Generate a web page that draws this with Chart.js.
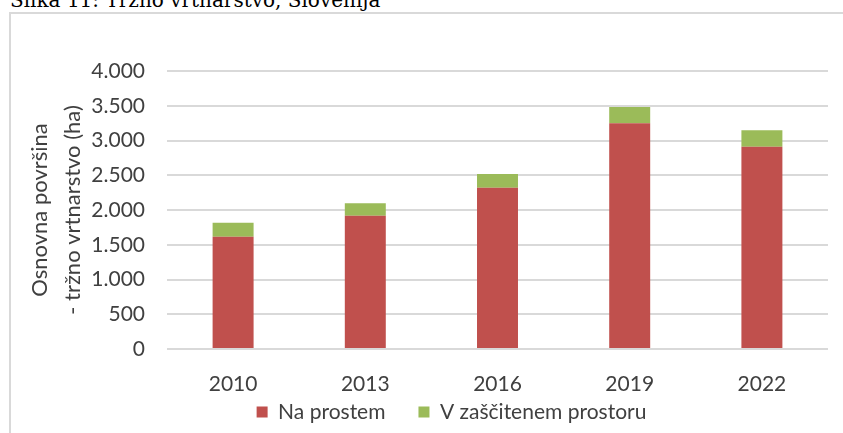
<!DOCTYPE html>
<html>
<head>
<meta charset="utf-8">
<script src="https://cdn.jsdelivr.net/npm/chart.js@4"></script>
<style>
    body { margin: 0; overflow: hidden; background: #fff; width: 843px; height: 433px; position: relative; }
    .fig-title { position: absolute; left: 10px; top: -10px; font-family: "DejaVu Serif", serif; font-size: 20px; line-height: 20px; color: #000; white-space: nowrap; }
    .chart-frame { position: absolute; left: 9px; top: 12px; width: 1000px; height: 1000px; border: 2px solid #d9d9d9; }
    #vrtnarstvoChart { position: absolute; left: 0; top: 0; }
</style>
</head>
<body>
<div class="fig-title">Slika 11: Tržno vrtnarstvo, Slovenija</div>
<div class="chart-frame"></div>
<canvas id="vrtnarstvoChart" width="893" height="459"></canvas>

<script>
const years = ["2010", "2013", "2016", "2019", "2022"];

// osnovna povrsina v ha
const naProstem = [1616, 1918, 2321, 3248, 2911];
const vZascitenem = [201, 179, 197, 234, 236];

const textColor = "#404040";

// legend sits closer to the year labels than chart.js puts it
const legendNudge = {
    id: "legendNudge",
    afterLayout(chart) {
        chart.legend.top -= 26.5;
        chart.legend.bottom -= 26.5;
    }
};

showChart();

function showChart() {
    Chart.defaults.font.family = "Lato";

    new Chart("vrtnarstvoChart", {
        type: "bar",
        data: {
            labels: years,
            datasets: [{
                label: "Na prostem",
                data: naProstem,
                backgroundColor: "#c0504d",
                barPercentage: 0.31,
                categoryPercentage: 1
            }, {
                label: "V zaščitenem prostoru",
                data: vZascitenem,
                backgroundColor: "#9bbb59",
                barPercentage: 0.31,
                categoryPercentage: 1
            }]
        },
        options: {
            responsive: false,
            animation: false,
            layout: {
                padding: { left: 10, right: 0, top: 71, bottom: 0 }
            },
            plugins: {
                legend: {
                    position: "bottom",
                    labels: {
                        boxWidth: 11,
                        boxHeight: 11,
                        padding: 33,
                        color: textColor,
                        font: { size: 21 }
                    }
                },
                tooltip: { enabled: false }
            },
            scales: {
                x: {
                    stacked: true,
                    grid: { display: false },
                    border: { display: false },
                    ticks: {
                        padding: 15,
                        color: textColor,
                        font: { size: 21 }
                    },
                    afterFit: (scale) => { scale.height = 46; }
                },
                y: {
                    stacked: true,
                    min: 0,
                    max: 4000,
                    ticks: {
                        stepSize: 500,
                        padding: 22,
                        color: textColor,
                        font: { size: 21 },
                        callback: (v) => v.toLocaleString("de-DE")
                    },
                    grid: { color: "#d9d9d9", lineWidth: 2, drawTicks: false },
                    border: { display: false },
                    title: {
                        display: true,
                        text: ["Osnovna površina", "- tržno vrtnarstvo (ha)"],
                        color: textColor,
                        font: { size: 22, lineHeight: 1.5 },
                        padding: { top: 13, bottom: 0 }
                    },
                    afterFit: (scale) => { scale.width = 157; }
                },
                // empty right axis, keeps the plot narrower than the frame like in excel
                yRight: {
                    position: "right",
                    display: true,
                    grid: { display: false },
                    border: { display: false },
                    ticks: { display: false },
                    afterFit: (scale) => { scale.width = 65; }
                }
            }
        },
        plugins: [legendNudge]
    });
}
</script>
</body>
</html>
